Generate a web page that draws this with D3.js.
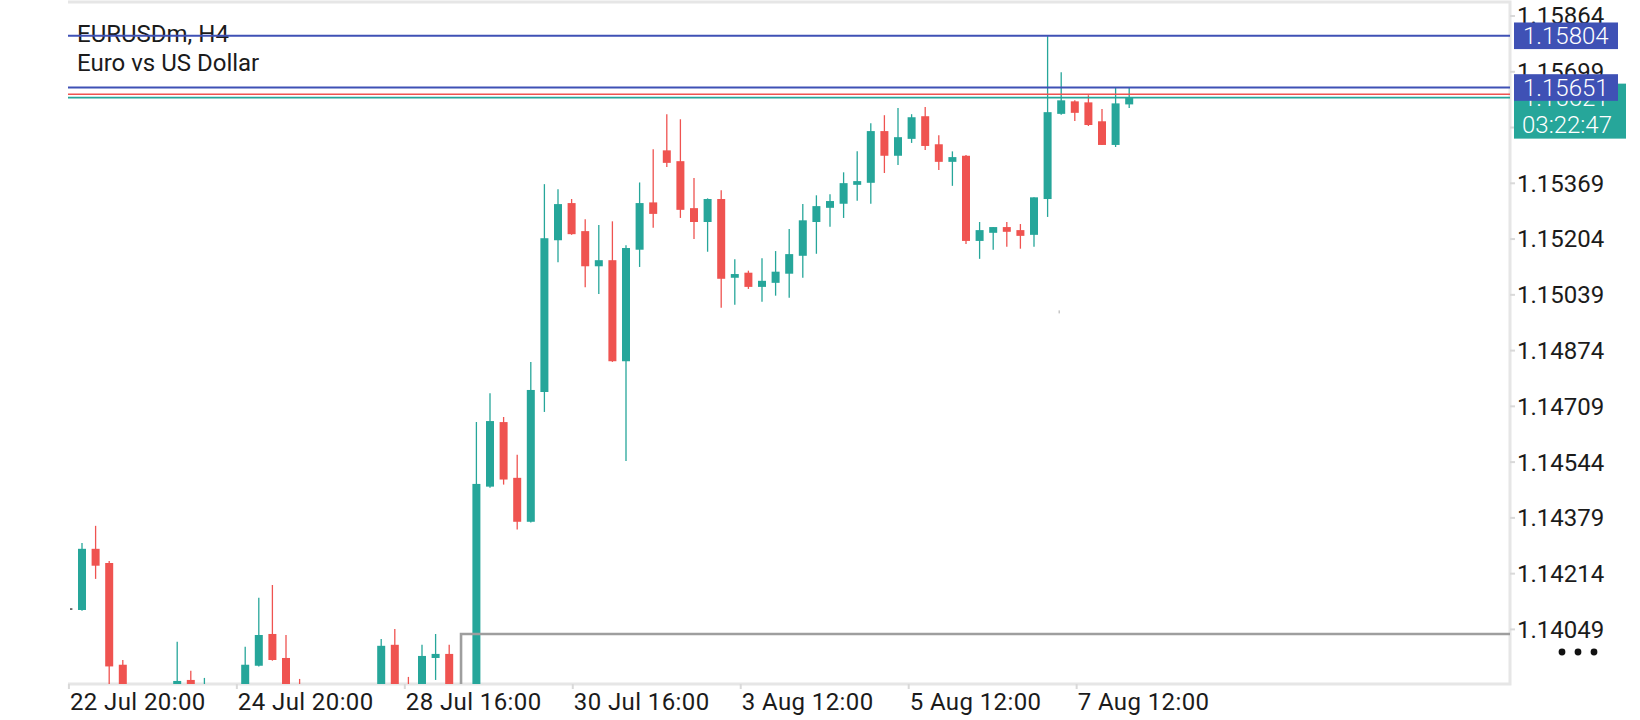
<!DOCTYPE html>
<html lang="en">
<head>
<meta charset="UTF-8">
<title>EURUSDm, H4</title>
<script src="https://cdn.jsdelivr.net/npm/d3@7"></script>
<style>
  body { margin:0; background:#fff; }
  svg text { font-family: Roboto, "Noto Sans", sans-serif; fill:#1b1b1b; }
  .title { font-size:24px; }
  .yaxis text { font-size:24px; }
  .xaxis text { font-size:24px; letter-spacing:0.4px; }
  .yaxis .tick line, .xaxis .tick line { stroke:#d9d9d9; stroke-width:2; }
  .yaxis .domain, .xaxis .domain { display:none; }
  .frame { stroke:#e6e6e6; stroke-width:3; fill:none; }
  .tag text { fill:#fff; font-size:24px; font-weight:300; }
</style>
</head>
<body>
<div id="chart"></div>
<script>
// H4 candles, index 0 = 22 Jul 20:00 (values below ~1.1389 fall under the visible area)
const openP  = [1.14110,1.14105,1.14286,1.14244,1.13943,1.13860,1.13810,1.13840,1.13860,1.13898,
                1.13850,1.13880,1.13830,1.13860,1.13940,1.14034,1.13963,1.13878,1.13850,1.13860,
                1.13820,1.13840,1.13830,1.13860,1.14002,1.13870,1.13860,1.13963,1.13975,1.13860,
                1.13870,1.14470,1.14661,1.14496,1.14366,1.14750,1.15199,1.15309,1.15226,1.15122,
                1.15140,1.14841,1.15171,1.15311,1.15465,1.15433,1.15294,1.15253,1.15321,1.15088,
                1.15103,1.15061,1.15073,1.15100,1.15153,1.15253,1.15295,1.15307,1.15363,1.15369,
                1.15522,1.15449,1.15499,1.15566,1.15483,1.15431,1.15449,1.15197,1.15221,1.15238,
                1.15229,1.15215,1.15321,1.15573,1.15610,1.15607,1.15551,1.15481,1.15601];
const highP  = [1.14111,1.14303,1.14354,1.14250,1.13957,1.13878,1.13860,1.13875,1.14011,1.13925,
                1.13904,1.13884,1.13870,1.13996,1.14141,1.14179,1.14031,1.13901,1.13870,1.13875,
                1.13860,1.13880,1.13870,1.14019,1.14049,1.13907,1.14002,1.14034,1.14002,1.13880,
                1.14661,1.14746,1.14676,1.14564,1.14839,1.15365,1.15350,1.15321,1.15261,1.15244,
                1.15255,1.15184,1.15370,1.15468,1.15572,1.15557,1.15383,1.15323,1.15347,1.15143,
                1.15109,1.15146,1.15167,1.15232,1.15306,1.15332,1.15335,1.15400,1.15462,1.15545,
                1.15569,1.15590,1.15572,1.15593,1.15510,1.15462,1.15451,1.15253,1.15238,1.15253,
                1.15247,1.15326,1.15803,1.15696,1.15613,1.15628,1.15587,1.15652,1.15652];
const lowP   = [1.14109,1.14103,1.14197,1.13870,1.13845,1.13790,1.13795,1.13820,1.13850,1.13860,
                1.13840,1.13810,1.13800,1.13850,1.13938,1.13955,1.13860,1.13830,1.13820,1.13800,
                1.13790,1.13810,1.13800,1.13840,1.13860,1.13830,1.13850,1.13898,1.13840,1.13830,
                1.13860,1.14467,1.14476,1.14343,1.14364,1.14691,1.15134,1.15215,1.15060,1.15040,
                1.14839,1.14546,1.15120,1.15236,1.15416,1.15265,1.15203,1.15165,1.14999,1.15008,
                1.15055,1.15017,1.15035,1.15029,1.15088,1.15159,1.15239,1.15265,1.15316,1.15307,
                1.15398,1.15422,1.15487,1.15466,1.15407,1.15360,1.15188,1.15144,1.15171,1.15180,
                1.15174,1.15180,1.15268,1.15570,1.15552,1.15537,1.15481,1.15475,1.15590];
const closeP = [1.14110,1.14286,1.14236,1.13938,1.13860,1.13810,1.13840,1.13860,1.13895,1.13870,
                1.13880,1.13830,1.13860,1.13943,1.14031,1.13957,1.13870,1.13850,1.13860,1.13820,
                1.13840,1.13830,1.13860,1.13999,1.13870,1.13850,1.13969,1.13975,1.13860,1.13870,
                1.14478,1.14664,1.14491,1.14366,1.14756,1.15205,1.15306,1.15217,1.15122,1.15140,
                1.14841,1.15176,1.15309,1.15277,1.15428,1.15289,1.15253,1.15321,1.15085,1.15099,
                1.15061,1.15079,1.15106,1.15158,1.15258,1.15300,1.15315,1.15368,1.15374,1.15522,
                1.15449,1.15504,1.15563,1.15478,1.15431,1.15445,1.15197,1.15229,1.15238,1.15224,
                1.15212,1.15326,1.15578,1.15613,1.15576,1.15540,1.15481,1.15604,1.15621];

const timeLabels = ["22 Jul 20:00","24 Jul 20:00","28 Jul 16:00","30 Jul 16:00","3 Aug 12:00","5 Aug 12:00","7 Aug 12:00"];
const barsPerLabel = 12.35;
const priceTicks = ["1.15864","1.15699","1.15534","1.15369","1.15204","1.15039","1.14874","1.14709","1.14544","1.14379","1.14214","1.14049"];

const userLevels = [1.15804, 1.15651];
const bidPrice = 1.15621;
const askPrice = 1.15631;
const countdown = "03:22:47";
const stepLevel = 1.14034;
const stepBar = 28.87;
const marks = [{bar: 72.85, price: 1.14987}];

const width = 1640, height = 720;
const plot = {left: 68, right: 1510, top: 3, bottom: 684};
const barStep = 13.6;
const firstBarX = 68.4;
const teal = "#26a69a", red = "#ef5350", blue = "#3f51b5";

const svg = d3.select("#chart").append("svg")
    .attr("width", width)
    .attr("height", height);

const x = d3.scaleLinear()
    .domain([0, openP.length - 1])
    .range([firstBarX, firstBarX + barStep * (openP.length - 1)]);

const y = d3.scaleLinear()
    .domain([1.13886, 1.15901])
    .range([plot.bottom, plot.top]);

// frame
svg.append("path")
    .attr("class", "frame")
    .attr("d", `M${plot.left},2 H${plot.right} V${plot.bottom} H${plot.left}`);

// axes
svg.append("g")
    .attr("class", "xaxis")
    .attr("transform", `translate(0,${plot.bottom})`)
    .call(d3.axisBottom(x)
        .tickValues(timeLabels.map((d, i) => i * barsPerLabel))
        .tickFormat((d, i) => timeLabels[i])
        .tickSize(5))
    .selectAll("text")
    .attr("y", 26).attr("dy", null).attr("x", 1)
    .style("text-anchor", "start");

svg.append("g")
    .attr("class", "yaxis")
    .attr("transform", `translate(${plot.right},0)`)
    .call(d3.axisRight(y)
        .tickValues(priceTicks.map(Number))
        .tickFormat(d3.format(".5f"))
        .tickSize(5)
        .tickPadding(2))
    .selectAll("text").attr("dy", "0.35em");

// title
svg.append("text").attr("class", "title").attr("x", 77).attr("y", 42).text("EURUSDm, H4");
svg.append("text").attr("class", "title").attr("x", 77).attr("y", 70.5).text("Euro vs US Dollar");

// candles
svg.append("clipPath").attr("id", "clip")
    .append("rect")
    .attr("x", 70).attr("y", plot.top)
    .attr("width", plot.right - 70).attr("height", plot.bottom - plot.top);

const candles = svg.append("g").attr("clip-path", "url(#clip)");
const bars = d3.range(openP.length);
function col(i) {
    if (closeP[i] > openP[i]) return teal;
    if (closeP[i] < openP[i]) return red;
    return "#444";
}

candles.selectAll("line.wick")
    .data(bars)
    .enter()
    .append("line")
    .attr("class", "wick")
    .attr("x1", i => x(i)).attr("x2", i => x(i))
    .attr("y1", i => y(highP[i]))
    .attr("y2", i => y(lowP[i]))
    .attr("stroke", col)
    .attr("stroke-width", 1.3);

candles.selectAll("rect.body")
    .data(bars)
    .enter()
    .append("rect")
    .attr("class", "body")
    .attr("x", i => x(i) - 4)
    .attr("width", 8)
    .attr("y", i => y(Math.max(openP[i], closeP[i])))
    .attr("height", i => Math.max(1.5, Math.abs(y(openP[i]) - y(closeP[i]))))
    .attr("fill", col);

candles.selectAll("line.mark")
    .data(marks)
    .enter()
    .append("line")
    .attr("class", "mark")
    .attr("x1", d => x(d.bar)).attr("x2", d => x(d.bar))
    .attr("y1", d => y(d.price) - 1.5).attr("y2", d => y(d.price) + 1.5)
    .attr("stroke", "#aaa");

// grey step line
svg.append("path")
    .attr("d", `M${x(stepBar)},${plot.bottom} V${y(stepLevel)} H${plot.right}`)
    .attr("fill", "none")
    .attr("stroke", "#9e9e9e")
    .attr("stroke-width", 2.6);

// price lines
userLevels.forEach(function(p) {
    svg.append("line")
        .attr("x1", plot.left).attr("x2", plot.right)
        .attr("y1", y(p)).attr("y2", y(p))
        .attr("stroke", blue).attr("stroke-width", 2);
});
svg.append("line")
    .attr("x1", plot.left).attr("x2", plot.right)
    .attr("y1", y(askPrice)).attr("y2", y(askPrice))
    .attr("stroke", red).attr("stroke-width", 1.6);
svg.append("line")
    .attr("x1", plot.left).attr("x2", plot.right)
    .attr("y1", y(bidPrice)).attr("y2", y(bidPrice))
    .attr("stroke", teal).attr("stroke-width", 1.6);

// bid tag with countdown
const bidTag = svg.append("g").attr("class", "tag");
bidTag.append("rect")
    .attr("x", 1514).attr("y", y(bidPrice) - 14)
    .attr("width", 112).attr("height", 55)
    .attr("fill", teal);
bidTag.append("text").attr("x", 1523).attr("y", y(bidPrice)).attr("dy", "0.35em").text(bidPrice.toFixed(5));
bidTag.append("text").attr("x", 1522).attr("y", y(bidPrice) + 27).attr("dy", "0.35em").text(countdown);

// user level tags
userLevels.forEach(function(p) {
    const g = svg.append("g").attr("class", "tag");
    g.append("rect")
        .attr("x", 1514).attr("y", y(p) - 13.3)
        .attr("width", 104).attr("height", 26.6)
        .attr("fill", blue);
    g.append("text").attr("x", 1523).attr("y", y(p)).attr("dy", "0.35em").text(p.toFixed(5));
});

// menu dots
svg.selectAll("circle.dot")
    .data([0, 1, 2])
    .enter()
    .append("circle")
    .attr("class", "dot")
    .attr("cx", d => 1562 + d * 16)
    .attr("cy", 652)
    .attr("r", 3.4)
    .attr("fill", "#111");
</script>
</body>
</html>
